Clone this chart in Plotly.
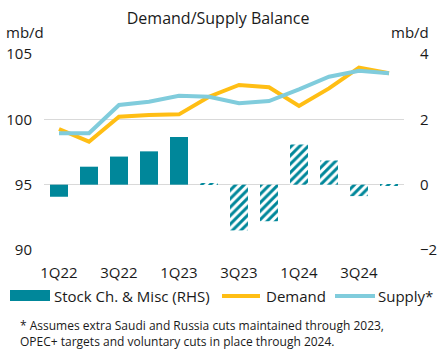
import plotly.graph_objects as go

quarters = ["1Q22", "2Q22", "3Q22", "4Q22", "1Q23", "2Q23", "3Q23", "4Q23",
            "1Q24", "2Q24", "3Q24", "4Q24"]
stock_change = [-0.37, 0.55, 0.86, 1.02, 1.46, 0.05, -1.40, -1.12, 1.23, 0.74, -0.35, -0.03]
forecast = [False, False, False, False, False, True, True, True, True, True, True, True]
demand = [99.26, 98.29, 100.20, 100.33, 100.38, 101.73, 102.63, 102.45, 101.02, 102.37, 103.95, 103.52]
supply = [98.93, 98.93, 101.10, 101.35, 101.81, 101.73, 101.23, 101.40, 102.30, 103.26, 103.72, 103.52]
left_ticks = [90, 95, 100, 105]
right_ticks = [-2, 0, 2, 4]
tick_labels = quarters[::2]

TEAL = "#00879A"
YELLOW = "#FFBE14"
BLUE = "#80CCDC"
FONT = "Open Sans"
TXT = "#1a1a1a"

W, H = 447, 361
L, R, T, B = 44, 404, 54, 250


def px(x):
    return (x - L) / (R - L)


def py(y):
    return (B - y) / (B - T)


fig = go.Figure()

fig.add_trace(go.Bar(
    x=quarters, y=stock_change, yaxis="y2", width=0.6,
    marker=dict(
        color=TEAL,
        line=dict(width=0),
        pattern=dict(
            shape=["/" if f else "" for f in forecast],
            fgcolor=TEAL, bgcolor="white", size=6, solidity=0.5,
            fillmode="replace",
        ),
    ),
    showlegend=False,
))
fig.add_trace(go.Scatter(x=quarters, y=demand, mode="lines",
                         line=dict(color=YELLOW, width=4), showlegend=False))
fig.add_trace(go.Scatter(x=quarters, y=supply, mode="lines",
                         line=dict(color=BLUE, width=4), showlegend=False))

shapes = []
annotations = []

# Manual legend
leg_y = py(296)
shapes.append(dict(type="rect", xref="paper", yref="paper",
                   x0=px(10), x1=px(50), y0=py(301), y1=py(290),
                   fillcolor=TEAL, line=dict(width=0)))
annotations.append(dict(xref="paper", yref="paper", x=px(52), y=leg_y,
                        text="Stock Ch. & Misc (RHS)", showarrow=False,
                        xanchor="left", yanchor="middle",
                        font=dict(family=FONT, size=15, color=TXT)))
shapes.append(dict(type="line", xref="paper", yref="paper",
                   x0=px(222), x1=px(260), y0=leg_y, y1=leg_y,
                   line=dict(color=YELLOW, width=4)))
annotations.append(dict(xref="paper", yref="paper", x=px(264), y=leg_y,
                        text="Demand", showarrow=False,
                        xanchor="left", yanchor="middle",
                        font=dict(family=FONT, size=15, color=TXT)))
shapes.append(dict(type="line", xref="paper", yref="paper",
                   x0=px(335), x1=px(375), y0=leg_y, y1=leg_y,
                   line=dict(color=BLUE, width=4)))
annotations.append(dict(xref="paper", yref="paper", x=px(376), y=leg_y,
                        text="Supply*", showarrow=False,
                        xanchor="left", yanchor="middle",
                        font=dict(family=FONT, size=15, color=TXT)))

# Axis unit labels
annotations.append(dict(xref="paper", yref="paper", x=px(4), y=py(32),
                        text="mb/d", showarrow=False, xanchor="left", yanchor="middle",
                        font=dict(family=FONT, size=15, color=TXT)))
annotations.append(dict(xref="paper", yref="paper", x=px(431), y=py(32),
                        text="mb/d", showarrow=False, xanchor="right", yanchor="middle",
                        font=dict(family=FONT, size=15, color=TXT)))

# Footnote
annotations.append(dict(xref="paper", yref="paper", x=px(18), y=py(333),
                        text="* Assumes extra Saudi and Russia cuts maintained through 2023,<br>"
                             "OPEC+ targets and voluntary cuts in place through 2024.",
                        showarrow=False, xanchor="left", yanchor="middle", align="left",
                        font=dict(family=FONT, size=12, color=TXT)))

fig.update_layout(
    width=W, height=H,
    margin=dict(l=L, r=W - R, t=T, b=H - B, pad=0, autoexpand=False),
    paper_bgcolor="white", plot_bgcolor="white",
    title=dict(text="Demand/Supply Balance", x=0.488, xanchor="center",
               y=1 - 18 / H, yanchor="middle",
               font=dict(family=FONT, size=16, color=TXT)),
    font=dict(family=FONT, color=TXT),
    xaxis=dict(type="category", categoryorder="array", categoryarray=quarters,
               range=[-0.5, len(quarters) - 0.5], automargin=False,
               tickmode="array", tickvals=tick_labels, ticktext=tick_labels,
               showgrid=False, showline=False, zeroline=False,
               ticks="outside", ticklen=9, tickcolor="rgba(0,0,0,0)",
               tickfont=dict(family=FONT, size=15, color=TXT)),
    yaxis=dict(range=[90, 105], tickmode="array", tickvals=left_ticks, automargin=False,
               showgrid=True, gridcolor="#D9D9D9", gridwidth=1, zeroline=False,
               showline=False, ticks="outside", ticklen=8, tickcolor="rgba(0,0,0,0)",
               tickfont=dict(family=FONT, size=15, color=TXT)),
    yaxis2=dict(range=[-2, 4], overlaying="y", side="right", tickmode="array",
                tickvals=right_ticks, showgrid=False, zeroline=False, showline=False,
                automargin=False,
                ticks="outside", ticklen=12, tickcolor="rgba(0,0,0,0)",
                tickfont=dict(family=FONT, size=15, color=TXT)),
    barmode="overlay",
    shapes=shapes,
    annotations=annotations,
    showlegend=False,
)

fig.write_html("out.html", config={"displayModeBar": False},
               post_script="document.body.style.margin='0px';document.body.style.padding='0px';")
